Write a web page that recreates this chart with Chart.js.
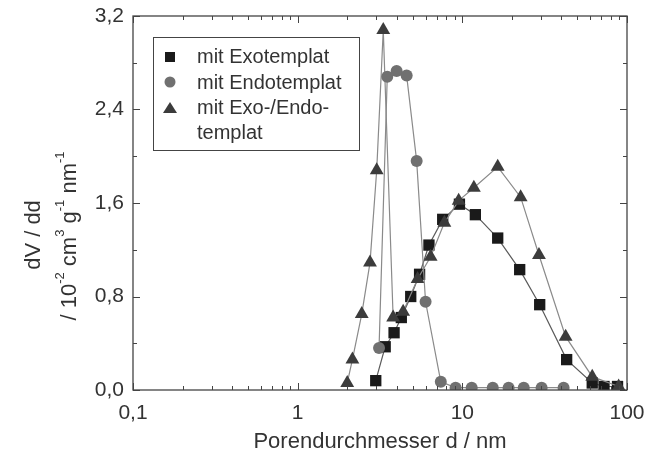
<!DOCTYPE html>
<html>
<head>
<meta charset="utf-8">
<script src="https://cdn.jsdelivr.net/npm/chart.js@4.4.0/dist/chart.umd.min.js"></script>
<style>
  html, body { margin: 0; padding: 0; background: #fff; }
  #wrap { width: 650px; height: 454px; }
</style>
</head>
<body>
<div id="wrap"><canvas id="c" width="650" height="454"></canvas></div>
<script>
// pore diameter (nm) and dV/dd (10^-2 cm3 g-1 nm-1)
var exoX = [2.98, 3.4, 3.85, 4.26, 4.86, 5.5, 6.27, 7.6, 9.6, 12.0, 16.4, 22.3, 29.5, 43, 61.5, 72.5, 87.6];
var exoY = [0.08, 0.37, 0.49, 0.62, 0.80, 0.99, 1.24, 1.46, 1.59, 1.50, 1.30, 1.03, 0.73, 0.26, 0.06, 0.03, 0.03];

var endoX = [3.12, 3.5, 3.99, 4.59, 5.28, 5.98, 7.4, 9.1, 11.4, 15.3, 19.1, 23.6, 30.3, 41.2];
var endoY = [0.36, 2.68, 2.73, 2.69, 1.96, 0.755, 0.07, 0.02, 0.02, 0.02, 0.02, 0.02, 0.02, 0.02];

var exoEndoX = [2.0, 2.15, 2.45, 2.75, 3.02, 3.31, 3.8, 4.37, 5.35, 6.42, 7.78, 9.5, 11.75, 16.4, 22.6, 29.2, 42.4, 61.5, 89];
var exoEndoY = [0.06, 0.26, 0.65, 1.09, 1.88, 3.08, 0.62, 0.67, 0.95, 1.14, 1.43, 1.62, 1.73, 1.91, 1.65, 1.155, 0.456, 0.114, 0.03];

var xTicks = [0.1, 1, 10, 100];
var yTicks = [0, 0.8, 1.6, 2.4, 3.2];
var legendLabels = ['mit Exotemplat', 'mit Endotemplat', 'mit Exo-/Endo-', 'templat'];

var FONT = '"Liberation Sans", Arial, sans-serif';
var TXT = '#333';

function pts(xs, ys) {
  return xs.map(function(x, i) { return {x: x, y: ys[i]}; });
}
function fmt(v) { return String(v).replace('.', ','); }

// inward ticks, frame, axis titles and legend
var decor = {
  id: 'decor',
  afterDraw: function(chart) {
    var ctx = chart.ctx, a = chart.chartArea;
    var xs = chart.scales.x, ys = chart.scales.y;
    ctx.save();
    ctx.strokeStyle = '#444';
    ctx.lineWidth = 1.3;
    ctx.strokeRect(a.left, a.top, a.right - a.left, a.bottom - a.top);

    ctx.lineWidth = 1;
    ctx.beginPath();
    for (var d = 0.1; d < 150; d *= 10) {
      for (var m = 1; m <= 9; m++) {
        var v = d * m;
        if (v > 100.0001) break;
        var px = Math.round(xs.getPixelForValue(v)) + 0.5;
        var len = (m === 1) ? 7 : 4;
        ctx.moveTo(px, a.bottom); ctx.lineTo(px, a.bottom - len);
        ctx.moveTo(px, a.top); ctx.lineTo(px, a.top + len);
      }
    }
    for (var k = 0; k <= 8; k++) {
      var yv = k * 0.4;
      var py = Math.round(ys.getPixelForValue(yv)) + 0.5;
      var l = (k % 2 === 0) ? 7 : 4;
      ctx.moveTo(a.left, py); ctx.lineTo(a.left + l, py);
      ctx.moveTo(a.right, py); ctx.lineTo(a.right - l, py);
    }
    ctx.stroke();

    // x title
    ctx.fillStyle = TXT;
    ctx.font = '22px ' + FONT;
    ctx.textAlign = 'center';
    ctx.textBaseline = 'middle';
    ctx.fillText('Porendurchmesser d / nm', 380, 442);

    // y title (two lines, rotated)
    ctx.save();
    ctx.translate(34, 235);
    ctx.rotate(-Math.PI / 2);
    ctx.fillText('dV / dd', 0, 0);
    ctx.restore();

    ctx.save();
    ctx.translate(70, 236);
    ctx.rotate(-Math.PI / 2);
    var parts = [['/ 10', 0], ['-2', 1], [' cm', 0], ['3', 1], [' g', 0], ['-1', 1], [' nm', 0], ['-1', 1]];
    var big = '22px ' + FONT, small = '13px ' + FONT;
    var total = 0;
    parts.forEach(function(p) { ctx.font = p[1] ? small : big; total += ctx.measureText(p[0]).width; });
    var cx = -total / 2;
    ctx.textAlign = 'left';
    parts.forEach(function(p) {
      ctx.font = p[1] ? small : big;
      ctx.fillText(p[0], cx, p[1] ? -10 : 0);
      cx += ctx.measureText(p[0]).width;
    });
    ctx.restore();

    // legend box
    ctx.strokeStyle = '#444';
    ctx.lineWidth = 1;
    ctx.strokeRect(153.5, 37.5, 206, 113);
    var rows = [57, 83, 108, 133];
    ctx.font = '20px ' + FONT;
    ctx.textAlign = 'left';
    ctx.fillStyle = TXT;
    legendLabels.forEach(function(t, i) { ctx.fillText(t, 197, rows[i]); });
    ctx.fillStyle = '#1a1a1a';
    ctx.fillRect(165, 52, 10, 10);
    ctx.fillStyle = '#707070';
    ctx.beginPath(); ctx.arc(170, 82, 5.5, 0, Math.PI * 2); ctx.fill();
    ctx.fillStyle = '#3c3c3c';
    ctx.beginPath(); ctx.moveTo(170, 102); ctx.lineTo(177, 113); ctx.lineTo(163, 113); ctx.closePath(); ctx.fill();
    ctx.restore();
  }
};

var lineCol = '#8a8a8a';
new Chart(document.getElementById('c'), {
  type: 'scatter',
  data: {
    datasets: [
      {
        label: 'mit Endotemplat', data: pts(endoX, endoY), showLine: true,
        borderColor: lineCol, borderWidth: 1.2, pointStyle: 'circle', pointRadius: 6,
        pointBackgroundColor: '#707070', pointBorderWidth: 0
      },
      {
        label: 'mit Exo-/Endotemplat', data: pts(exoEndoX, exoEndoY), showLine: true,
        borderColor: lineCol, borderWidth: 1.2, pointStyle: 'triangle', pointRadius: 8,
        pointBackgroundColor: '#3c3c3c', pointBorderWidth: 0
      },
      {
        label: 'mit Exotemplat', data: pts(exoX, exoY), showLine: true,
        borderColor: '#5a5a5a', borderWidth: 1.2, pointStyle: 'rect', pointRadius: 8,
        pointBackgroundColor: '#1a1a1a', pointBorderWidth: 0
      }
    ]
  },
  options: {
    responsive: false,
    animation: false,
    layout: { padding: { top: 16, right: 23, left: 0, bottom: 0 } },
    plugins: { legend: { display: false }, tooltip: { enabled: false } },
    scales: {
      x: {
        type: 'logarithmic', min: 0.1, max: 100,
        grid: { display: false }, border: { display: false },
        afterBuildTicks: function(s) { s.ticks = xTicks.map(function(v) { return {value: v}; }); },
        afterFit: function(s) { s.height = 64; },
        ticks: {
          autoSkip: false, maxRotation: 0, padding: 3, color: TXT,
          font: { family: FONT, size: 21 },
          callback: function(v) { return fmt(v); }
        }
      },
      y: {
        min: 0, max: 3.2,
        grid: { display: false }, border: { display: false },
        afterBuildTicks: function(s) { s.ticks = yTicks.map(function(v) { return {value: v}; }); },
        afterFit: function(s) { s.width = 133; },
        ticks: {
          padding: 1, color: TXT,
          font: { family: FONT, size: 21 },
          callback: function(v) { return v.toFixed(1).replace('.', ','); }
        }
      }
    }
  },
  plugins: [decor]
});
</script>
</body>
</html>
